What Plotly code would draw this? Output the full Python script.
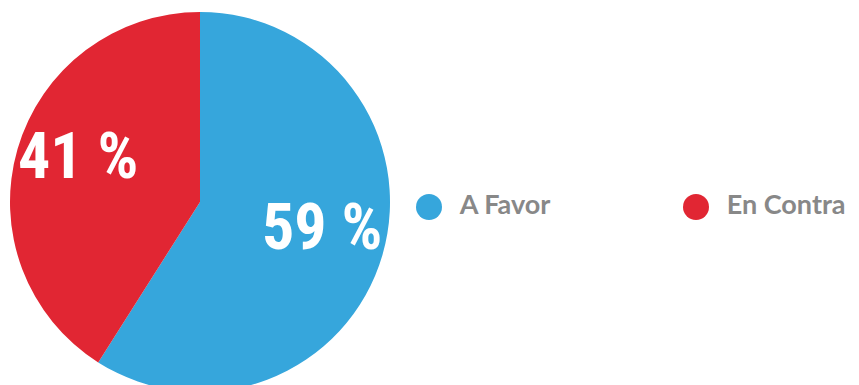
import math
import plotly.graph_objects as go

categories = ["A Favor", "En Contra"]
values = [59, 41]
label_texts = ["59 %", "41 %"]
colors = ["#36A6DC", "#E12633"]

W, H = 851, 384
M_TOP = 4
PIE_W = 384

fig = go.Figure()

fig.add_trace(go.Pie(
    labels=categories,
    values=values,
    textinfo="none",
    sort=False,
    direction="clockwise",
    rotation=0,
    marker=dict(colors=colors, line=dict(width=0)),
    domain=dict(x=[0, PIE_W / W], y=[0, 1]),
    showlegend=False,
    hoverinfo="label+percent",
))

# slice labels placed along each slice's bisector
plot_h = H - M_TOP
radius_px = min(PIE_W, plot_h) / 2
cx, cy = (PIE_W / 2) / W, 0.5
total = sum(values)
start = 0.0
for v, t in zip(values, label_texts):
    mid = (start + v / 2) / total * 2 * math.pi
    start += v
    r = 0.67 * radius_px
    fig.add_annotation(
        x=cx + r * math.sin(mid) / W,
        y=cy + r * math.cos(mid) / plot_h,
        xref="paper", yref="paper",
        text=t, showarrow=False,
        xanchor="center", yanchor="middle",
        yshift=10,
        font=dict(family="Roboto Condensed, Noto Sans Condensed, Liberation Sans Narrow, DejaVu Sans Condensed, sans-serif",
                  size=64, color="white", weight="bold"),
    )

# legend built from the same categories
fig.add_trace(go.Scatter(
    x=categories,
    y=[0, 0],
    mode="markers+text",
    marker=dict(size=26, color=colors, line=dict(width=0)),
    text=["\u2002" + c for c in categories],
    textposition="middle right",
    textfont=dict(family="Lato, sans-serif", size=27, color="#888888", weight="bold"),
    showlegend=False,
    hoverinfo="skip",
    cliponaxis=False,
))

fig.update_layout(
    width=W,
    height=H,
    margin=dict(l=0, r=0, t=M_TOP, b=0),
    paper_bgcolor="white",
    plot_bgcolor="rgba(0,0,0,0)",
    xaxis=dict(type="category", range=[-1.5768, 1.6105], visible=False, fixedrange=True),
    yaxis=dict(range=[-0.4868, 0.5132], visible=False, fixedrange=True),
)

fig.write_html("out.html")
